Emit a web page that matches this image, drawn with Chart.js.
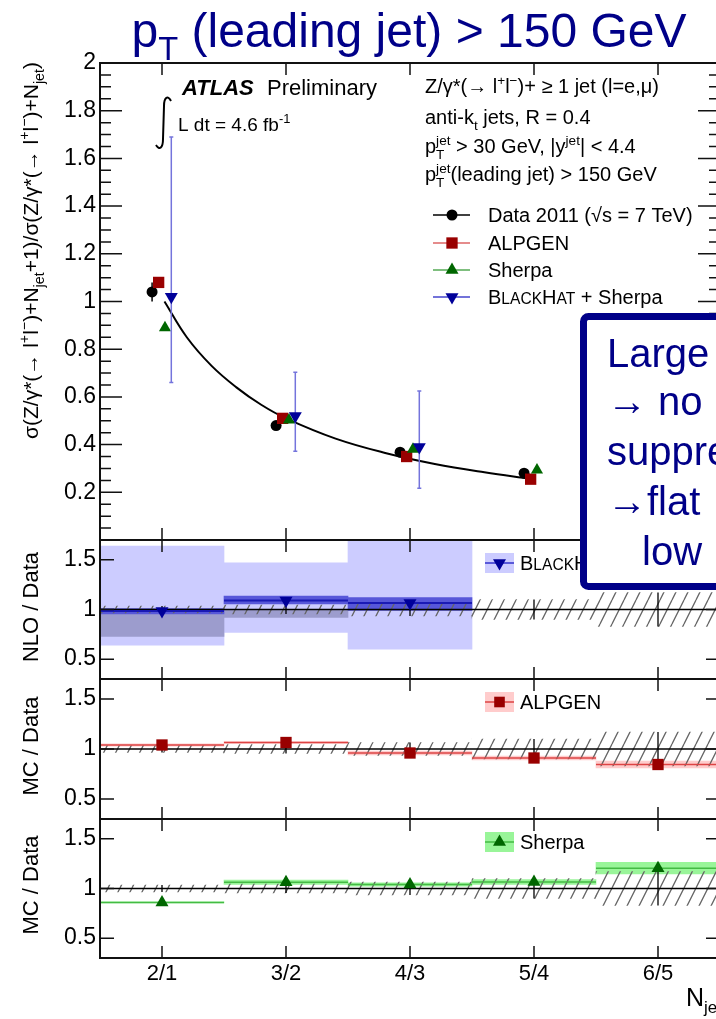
<!DOCTYPE html>
<html>
<head>
<meta charset="utf-8">
<script src="https://cdn.jsdelivr.net/npm/chart.js@4.4.0/dist/chart.umd.min.js"></script>
<style>
  html, body { margin: 0; padding: 0; overflow: hidden; background: #fff; }
  #wrap { position: relative; width: 716px; height: 1019px; overflow: hidden; background: #fff; }
  canvas { position: absolute; left: 0; top: 0; }
</style>
</head>
<body>
<div id="wrap">
  <canvas id="pSherpa" width="730" height="1019"></canvas>
  <canvas id="pAlpgen" width="730" height="1019"></canvas>
  <canvas id="pNlo" width="730" height="1019"></canvas>
  <canvas id="pMain" width="730" height="1019"></canvas>
</div>
<script>
// ---- data ----
const categories = ['2/1', '3/2', '4/3', '5/4', '6/5'];
const mainTicks = ['0.2', '0.4', '0.6', '0.8', '1', '1.2', '1.4', '1.6', '1.8', '2'];
const ratioTicks = ['0.5', '1', '1.5'];

// top panel: sigma(N+1)/sigma(N)
const dataMain = [1.04, 0.48, 0.368, 0.28];
const dataMainErr = [0.04, 0.008, 0.007, 0.006];
const alpgenMain = [1.08, 0.51, 0.35, 0.255];
const sherpaMain = [0.89, 0.503, 0.38, 0.293];
const blackhatMain = [1.02, 0.52, 0.39];
const blackhatLo = [0.66, 0.372, 0.217];
const blackhatHi = [1.69, 0.703, 0.625];
// fit curve
const fitX = [1.02, 1.2, 1.4, 1.6, 1.8, 2.0, 2.4, 2.8, 3.2, 3.6, 3.97];
const fitY = [1.0, 0.85, 0.73, 0.64, 0.567, 0.51, 0.425, 0.365, 0.319, 0.284, 0.257];

// ratio panels
const dataUnc = [0.035, 0.045, 0.065, 0.10, 0.17];
const nloRatio = [0.985, 1.09, 1.065];
const nloStatLo = [0.955, 1.055, 0.99];
const nloStatHi = [1.01, 1.135, 1.12];
const nloTotLo = [0.64, 0.77, 0.60];
const nloTotHi = [1.64, 1.47, 1.70];
const nloGreyLo = [0.73, 0.92];
const nloGreyHi = [1.0, 1.0];
const alpgenRatio = [1.04, 1.065, 0.96, 0.91, 0.845];
const alpgenErr = [0.012, 0.01, 0.018, 0.02, 0.035];
const sherpaRatio = [0.86, 1.063, 1.04, 1.065, 1.205];
const sherpaErr = [0.005, 0.022, 0.016, 0.025, 0.058];

// ---- layout / style ----
const FONT = '"Liberation Sans", Arial, Helvetica, sans-serif';
const NAVY = '#000088';
const W = 730, H = 1019, PLOT_L = 100, PLOT_R = 720;
const xIdx = categories.map((c, i) => i + 1);
const offs = { data: -0.08, alpgen: -0.027, sherpa: 0.024, blackhat: 0.075 };

function setFont(ctx, size, style) { ctx.font = (style || '') + ' ' + size + 'px ' + FONT; }

// rich text with sub/superscripts: parts are strings or {t, sub, sup, k, style}
function richText(ctx, parts, x, y, size, draw) {
  let cx = x;
  for (const p of parts) {
    const o = typeof p === 'string' ? { t: p } : p;
    if (o.t) {
      setFont(ctx, size * (o.k || 1), o.style);
      if (draw) ctx.fillText(o.t, cx, y);
      cx += ctx.measureText(o.t).width;
    }
    let w = 0;
    setFont(ctx, size * 0.68);
    if (o.sub) { if (draw) ctx.fillText(o.sub, cx, y + size * 0.28); w = ctx.measureText(o.sub).width; }
    if (o.sup) { if (draw) ctx.fillText(o.sup, cx, y - size * 0.42); w = Math.max(w, ctx.measureText(o.sup).width); }
    cx += w;
  }
  return cx - x;
}
function drawRich(ctx, parts, x, y, size, align) {
  ctx.textAlign = 'left';
  ctx.textBaseline = 'alphabetic';
  const w = richText(ctx, parts, 0, 0, size, false);
  const sx = align === 'center' ? x - w / 2 : align === 'right' ? x - w : x;
  richText(ctx, parts, sx, y, size, true);
  return w;
}
function marker(ctx, style, x, y, r, color) {
  ctx.fillStyle = color;
  ctx.beginPath();
  if (style === 'circle') ctx.arc(x, y, r, 0, 2 * Math.PI);
  else if (style === 'rect') { const s = r * Math.SQRT1_2; ctx.rect(x - s, y - s, 2 * s, 2 * s); }
  else {
    const d = style === 'up' ? -1 : 1;
    ctx.moveTo(x, y + d * r);
    ctx.lineTo(x - r * 0.866, y - d * r * 0.5);
    ctx.lineTo(x + r * 0.866, y - d * r * 0.5);
    ctx.closePath();
  }
  ctx.fill();
}

function drawFrame(chart, major, minor, majLen, minLen) {
  const { ctx, chartArea: a, scales: { x, y } } = chart;
  ctx.save();
  ctx.strokeStyle = '#111';
  ctx.lineWidth = 1.5;
  ctx.beginPath();
  major.forEach(v => {
    const py = y.getPixelForValue(v);
    ctx.moveTo(a.left, py); ctx.lineTo(a.left + majLen, py);
    ctx.moveTo(a.right, py); ctx.lineTo(a.right - majLen, py);
  });
  minor.forEach(v => {
    const py = y.getPixelForValue(v);
    ctx.moveTo(a.left, py); ctx.lineTo(a.left + minLen, py);
    ctx.moveTo(a.right, py); ctx.lineTo(a.right - minLen, py);
  });
  xIdx.forEach(v => {
    const px = x.getPixelForValue(v);
    ctx.moveTo(px, a.top); ctx.lineTo(px, a.top + 12);
    ctx.moveTo(px, a.bottom); ctx.lineTo(px, a.bottom - 12);
  });
  ctx.stroke();
  ctx.lineWidth = 2;
  ctx.strokeRect(a.left, a.top, a.right - a.left, a.bottom - a.top);
  ctx.fillStyle = '#000';
  setFont(ctx, 23);
  ctx.textAlign = 'right';
  ctx.textBaseline = 'middle';
  chart.options.tickLabels.forEach(l => ctx.fillText(l, 96, y.getPixelForValue(Number(l))));
  ctx.restore();
}

function rotatedTitle(ctx, parts, bx, y, size, align) {
  ctx.save();
  ctx.fillStyle = '#000';
  ctx.translate(bx, y);
  ctx.rotate(-Math.PI / 2);
  drawRich(ctx, parts, 0, 0, size, align);
  ctx.restore();
}

// draws reference line, bin lines and error bars beneath a dataset's points
const extrasPlugin = {
  id: 'extras',
  beforeDatasetDraw(chart, args) {
    const ds = chart.data.datasets[args.index];
    const { ctx, chartArea: a, scales: { x, y } } = chart;
    ctx.save();
    if (ds.refLine !== undefined) {
      ctx.strokeStyle = '#000'; ctx.lineWidth = 1.5;
      const py = y.getPixelForValue(ds.refLine);
      ctx.beginPath(); ctx.moveTo(a.left, py); ctx.lineTo(a.right, py); ctx.stroke();
    }
    if (ds.binLine) {
      ctx.strokeStyle = ds.binLine.color; ctx.lineWidth = ds.binLine.width;
      ctx.beginPath();
      ds.data.forEach(d => {
        const py = y.getPixelForValue(d.y);
        ctx.moveTo(x.getPixelForValue(d.x - 0.5), py);
        ctx.lineTo(x.getPixelForValue(d.x + 0.5), py);
      });
      ctx.stroke();
    }
    if (ds.errorBars) {
      const e = ds.errorBars;
      ctx.strokeStyle = e.color; ctx.lineWidth = e.width;
      ctx.beginPath();
      args.meta.data.forEach((pt, i) => {
        const y1 = y.getPixelForValue(e.lo[i]), y2 = y.getPixelForValue(e.hi[i]);
        ctx.moveTo(pt.x, y1); ctx.lineTo(pt.x, y2);
        if (e.cap) {
          ctx.moveTo(pt.x - e.cap, y1); ctx.lineTo(pt.x + e.cap, y1);
          ctx.moveTo(pt.x - e.cap, y2); ctx.lineTo(pt.x + e.cap, y2);
        }
      });
      ctx.stroke();
    }
    ctx.restore();
  }
};

function baseOptions(top, bottom, yMin, yMax, tickLabels) {
  return {
    responsive: false, animation: false, events: [], devicePixelRatio: 1,
    layout: { padding: { left: PLOT_L, right: W - PLOT_R, top: top, bottom: H - bottom } },
    plugins: { legend: { display: false }, tooltip: { enabled: false }, title: { display: false } },
    tickLabels: tickLabels,
    scales: {
      x: { type: 'linear', display: false, offset: false, bounds: 'data', min: 0.5, max: 5.5,
           afterBuildTicks: s => { s.ticks = xIdx.map(v => ({ value: v })); } },
      y: { type: 'linear', display: false, offset: false, min: yMin, max: yMax }
    }
  };
}

function pts(values, off) { return values.map((v, i) => ({ x: xIdx[i] + (off || 0), y: v })); }
function band(lo, hi, color) {
  return { type: 'bar', data: lo.map((l, i) => ({ x: xIdx[i], y: [l, hi[i]] })),
           backgroundColor: color, borderWidth: 0, grouped: false, clip: 0,
           barPercentage: 1, categoryPercentage: 1 };
}
function hatch(canvasId) {
  const c = document.createElement('canvas');
  c.width = 12; c.height = 24;
  const g = c.getContext('2d');
  g.strokeStyle = '#666'; g.lineWidth = 1.3;
  g.beginPath();
  [-12, 0, 12].forEach(dx => { g.moveTo(dx, 24); g.lineTo(dx + 12, 0); });
  g.stroke();
  const pattern = document.getElementById(canvasId).getContext('2d').createPattern(c, 'repeat');
  return band(dataUnc.map(u => 1 - u), dataUnc.map(u => 1 + u), pattern);
}
function dataAtOne() {
  return { type: 'scatter', data: pts(dataUnc.map(() => 1)), pointRadius: 0, refLine: 1,
           errorBars: { lo: dataUnc.map(u => 1 - u), hi: dataUnc.map(u => 1 + u), color: '#000', width: 1.3 } };
}

// ---- ratio panels ----
function ratioPanel(id, top, bottom, layers, deco) {
  new Chart(document.getElementById(id), {
    type: 'scatter',
    data: { datasets: layers.slice().reverse() },
    options: baseOptions(top, bottom, 0.3, 1.7, ratioTicks),
    plugins: [extrasPlugin, {
      id: 'deco',
      afterDraw(chart) {
        const ctx = chart.ctx;
        drawFrame(chart, ratioTicks.map(Number), [], 14, 0);
        rotatedTitle(ctx, [deco.title], 38, deco.titleY, 22, 'center');
        const ly = deco.legendY;
        ctx.save();
        ctx.fillStyle = deco.boxColor;
        ctx.fillRect(485, ly - 10, 29, 20);
        ctx.strokeStyle = deco.lineColor; ctx.lineWidth = 1.5;
        ctx.beginPath(); ctx.moveTo(485, ly); ctx.lineTo(514, ly); ctx.stroke();
        marker(ctx, deco.marker, 499.5, ly, 7.5, deco.markerColor);
        ctx.fillStyle = '#000';
        drawRich(ctx, deco.label, 520, ly + 7, 20, 'left');
        if (deco.xAxis) {
          setFont(ctx, 22);
          ctx.textAlign = 'center'; ctx.textBaseline = 'alphabetic';
          categories.forEach((c, i) => ctx.fillText(c, chart.scales.x.getPixelForValue(xIdx[i]), 980));
          drawRich(ctx, ['N', { sub: 'jet' }, '+1', '/N', { sub: 'jet' }], 686, 1006, 25, 'left');
        }
        ctx.restore();
      }
    }]
  });
}

ratioPanel('pNlo', 540, 679, [
  band(nloTotLo, nloTotHi, '#ccccff'),
  band(nloGreyLo, nloGreyHi, '#9c9ccd'),
  band(nloStatLo, nloStatHi, '#5757d9'),
  hatch('pNlo'),
  dataAtOne(),
  { type: 'scatter', data: pts(nloRatio), pointStyle: 'triangle', rotation: 180, pointRadius: 7.5,
    backgroundColor: '#000099', borderWidth: 0, binLine: { color: '#1a1ab4', width: 2 } }
], { title: 'NLO / Data', titleY: 607, legendY: 563, boxColor: '#ccccff', lineColor: '#3333cc',
     marker: 'down', markerColor: '#000099',
     label: [{ t: 'B' }, { t: 'LACK', k: 0.78 }, { t: 'H' }, { t: 'AT', k: 0.78 }, ' + Sherpa'] });

ratioPanel('pAlpgen', 679, 819, [
  band(alpgenRatio.map((v, i) => v - alpgenErr[i]), alpgenRatio.map((v, i) => v + alpgenErr[i]), '#ffcccc'),
  hatch('pAlpgen'),
  dataAtOne(),
  { type: 'scatter', data: pts(alpgenRatio), pointStyle: 'rect', pointRadius: 8,
    backgroundColor: '#990000', borderWidth: 0, binLine: { color: '#dd4444', width: 1.5 } }
], { title: 'MC / Data', titleY: 746, legendY: 702, boxColor: '#ffcccc', lineColor: '#dd4444',
     marker: 'rect', markerColor: '#990000', label: ['ALPGEN'] });

ratioPanel('pSherpa', 819, 958, [
  band(sherpaRatio.map((v, i) => v - sherpaErr[i]), sherpaRatio.map((v, i) => v + sherpaErr[i]), '#99f599'),
  hatch('pSherpa'),
  dataAtOne(),
  { type: 'scatter', data: pts(sherpaRatio), pointStyle: 'triangle', pointRadius: 7.5,
    backgroundColor: '#006600', borderWidth: 0, binLine: { color: '#44bb44', width: 1.5 } }
], { title: 'MC / Data', titleY: 885, legendY: 842, boxColor: '#99f599', lineColor: '#44bb44',
     marker: 'up', markerColor: '#006600', label: ['Sherpa'], xAxis: true });

// ---- main panel ----
const minorMain = [];
for (let k = 1; k < 40; k++) if (k % 4) minorMain.push(k * 0.05);

const mainDeco = {
  id: 'mainDeco',
  afterDraw(chart) {
    const ctx = chart.ctx;
    drawFrame(chart, mainTicks.map(Number), minorMain, 22, 11);
    rotatedTitle(ctx, ['σ(Z/γ*(→ l', { sup: '+' }, 'l', { sup: '−' }, ')+N', { sub: 'jet' }, '+1)/σ(Z/γ*(→ l',
                       { sup: '+' }, 'l', { sup: '−' }, ')+N', { sub: 'jet' }, ')'], 38, 62, 21, 'right');
    ctx.save();
    ctx.fillStyle = '#000';
    drawRich(ctx, [{ t: 'ATLAS', style: 'italic bold' }], 182, 95, 22, 'left');
    drawRich(ctx, ['Preliminary'], 267, 95, 22, 'left');
    // integral sign
    ctx.strokeStyle = '#000'; ctx.lineWidth = 2;
    ctx.beginPath();
    ctx.moveTo(171, 101);
    ctx.bezierCurveTo(168, 95, 164, 97, 164, 106);
    ctx.lineTo(163, 139);
    ctx.bezierCurveTo(163, 149, 159, 150, 156, 145);
    ctx.stroke();
    drawRich(ctx, ['L dt = 4.6 fb', { sup: '-1' }], 178, 131, 19, 'left');

    drawRich(ctx, ['Z/γ*(→ l', { sup: '+' }, 'l', { sup: '−' }, ')+ ≥ 1 jet (l=e,μ)'], 425, 93, 20, 'left');
    drawRich(ctx, ['anti-k', { sub: 't' }, ' jets, R = 0.4'], 425, 124, 20, 'left');
    drawRich(ctx, ['p', { sub: 'T', sup: 'jet' }, ' > 30 GeV, |y', { sup: 'jet' }, '| < 4.4'], 425, 153, 20, 'left');
    drawRich(ctx, ['p', { sub: 'T', sup: 'jet' }, '(leading jet) > 150 GeV'], 425, 181, 20, 'left');

    const rows = [
      { y: 215, line: '#000', m: 'circle', r: 5.5, c: '#000', label: ['Data 2011 (√s = 7 TeV)'] },
      { y: 243, line: '#dd6666', m: 'rect', r: 8, c: '#990000', label: ['ALPGEN'] },
      { y: 270, line: '#55aa55', m: 'up', r: 7.5, c: '#006600', label: ['Sherpa'] },
      { y: 297, line: '#4444cc', m: 'down', r: 7.5, c: '#000099',
        label: [{ t: 'B' }, { t: 'LACK', k: 0.78 }, { t: 'H' }, { t: 'AT', k: 0.78 }, ' + Sherpa'] }
    ];
    rows.forEach(r => {
      ctx.strokeStyle = r.line; ctx.lineWidth = 1.5;
      ctx.beginPath(); ctx.moveTo(433, r.y); ctx.lineTo(470, r.y); ctx.stroke();
      marker(ctx, r.m, 452, r.y, r.r, r.c);
      ctx.fillStyle = '#000';
      drawRich(ctx, r.label, 488, r.y + 7, 20, 'left');
    });

    // slide title
    ctx.fillStyle = NAVY;
    drawRich(ctx, ['p', { sub: 'T' }, ' (leading jet) > 150 GeV'], 409, 47, 48, 'center');

    // overlay comment box
    ctx.fillStyle = '#fff'; ctx.strokeStyle = NAVY; ctx.lineWidth = 7;
    ctx.beginPath(); ctx.roundRect(583.5, 316.5, 220, 270, 5); ctx.fill(); ctx.stroke();
    ctx.fillStyle = NAVY;
    setFont(ctx, 40);
    ctx.textAlign = 'left'; ctx.textBaseline = 'alphabetic';
    ctx.fillText('Large', 607, 367);
    ctx.fillText('→ no', 607, 415);
    ctx.fillText('suppression', 607, 465);
    ctx.fillText('→flat', 607, 515);
    ctx.fillText('low', 642, 565);
    ctx.restore();
  }
};

new Chart(document.getElementById('pMain'), {
  type: 'scatter',
  data: {
    datasets: [
      { type: 'scatter', label: 'BlackHat + Sherpa', data: pts(blackhatMain, offs.blackhat),
        pointStyle: 'triangle', rotation: 180, pointRadius: 7.5, backgroundColor: '#000099', borderWidth: 0,
        errorBars: { lo: blackhatLo, hi: blackhatHi, color: '#7474dc', width: 1.5, cap: 2 } },
      { type: 'scatter', label: 'Sherpa', data: pts(sherpaMain, offs.sherpa),
        pointStyle: 'triangle', pointRadius: 7, backgroundColor: '#006600', borderWidth: 0 },
      { type: 'scatter', label: 'ALPGEN', data: pts(alpgenMain, offs.alpgen),
        pointStyle: 'rect', pointRadius: 8, backgroundColor: '#990000', borderWidth: 0 },
      { type: 'scatter', label: 'Data 2011', data: pts(dataMain, offs.data),
        pointStyle: 'circle', pointRadius: 5.5, backgroundColor: '#000', borderWidth: 0,
        errorBars: { lo: dataMain.map((v, i) => v - dataMainErr[i]), hi: dataMain.map((v, i) => v + dataMainErr[i]),
                     color: '#000', width: 1.5 } },
      { type: 'line', label: 'fit', data: fitX.map((v, i) => ({ x: v, y: fitY[i] })),
        borderColor: '#000', borderWidth: 2, pointRadius: 0, tension: 0.4, fill: false }
    ]
  },
  options: baseOptions(63, 540, 0, 2, mainTicks),
  plugins: [extrasPlugin, mainDeco]
});
</script>
</body>
</html>
